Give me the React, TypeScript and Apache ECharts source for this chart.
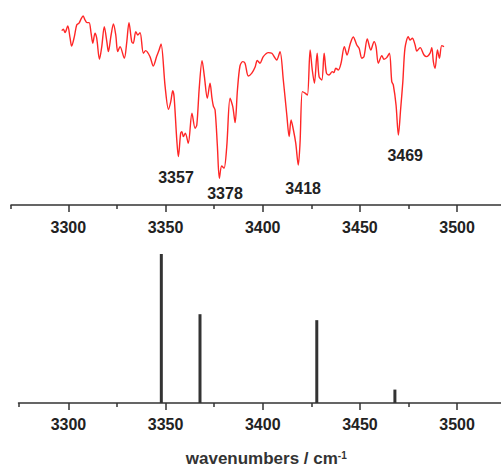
import React, { useEffect, useRef } from "react";
import * as echarts from "echarts";

// Measured IR spectrum (wavenumber / cm^-1, transmittance, arbitrary units)
const irSpectrum: [number, number][] = [
  [3296.6, 84.7], [3297.4, 85.4], [3298.3, 83.7], [3299.7, 87.0], [3300.9, 80.9],
  [3301.7, 77.0], [3303.1, 81.7], [3304.3, 87.5], [3305.5, 88.4], [3306.5, 90.4],
  [3307.6, 92.0], [3308.6, 90.0], [3309.6, 88.7], [3310.7, 88.7], [3311.7, 83.4],
  [3312.6, 78.4], [3313.7, 83.4], [3314.6, 80.9], [3316.0, 70.4], [3317.2, 76.7],
  [3318.5, 86.7], [3319.8, 79.2], [3320.6, 74.2], [3322.0, 82.5], [3323.2, 88.0],
  [3324.4, 82.5], [3325.4, 74.2], [3326.6, 76.7], [3328.8, 70.9], [3330.0, 78.4],
  [3331.2, 88.7], [3332.6, 79.2], [3333.4, 78.4], [3334.7, 84.2], [3335.7, 82.5],
  [3336.9, 83.7], [3338.6, 73.4], [3339.8, 74.7], [3342.0, 71.7], [3343.7, 67.0],
  [3345.5, 72.0], [3346.7, 75.0], [3347.7, 78.0], [3349.8, 56.7], [3351.5, 45.4],
  [3352.7, 49.2], [3353.7, 54.7], [3354.4, 51.7], [3355.8, 30.0], [3356.6, 21.7],
  [3357.8, 33.4], [3358.4, 34.2], [3359.2, 31.7], [3360.2, 33.4], [3361.7, 28.4],
  [3363.6, 43.4], [3365.2, 35.9], [3366.1, 37.5], [3367.4, 56.7], [3368.8, 69.7],
  [3370.0, 61.7], [3371.5, 50.9], [3372.9, 58.4], [3373.9, 50.9], [3374.6, 47.0],
  [3375.5, 45.0], [3376.7, 26.7], [3377.7, 10.9], [3378.9, 17.0], [3380.1, 15.9],
  [3381.5, 26.7], [3383.2, 50.9], [3384.6, 46.7], [3385.8, 38.7], [3387.0, 55.0],
  [3388.3, 67.0], [3389.7, 69.2], [3390.9, 68.4], [3392.6, 62.0], [3394.4, 63.4],
  [3396.1, 66.5], [3397.2, 69.8], [3398.6, 68.4], [3400.3, 71.7], [3402.9, 73.7],
  [3404.7, 73.4], [3406.4, 70.9], [3407.2, 70.0], [3408.9, 74.2], [3410.6, 60.0],
  [3412.4, 42.5], [3413.6, 31.7], [3414.6, 40.0], [3415.8, 35.0], [3417.0, 28.4],
  [3418.3, 17.5], [3419.2, 28.4], [3420.4, 54.2], [3421.8, 53.4], [3423.0, 52.5],
  [3424.4, 75.0], [3425.5, 65.0], [3426.6, 58.4], [3428.0, 73.4], [3429.0, 61.7],
  [3430.4, 60.0], [3431.6, 73.4], [3432.8, 63.4], [3434.1, 62.5], [3435.8, 64.2],
  [3436.6, 63.7], [3437.6, 65.9], [3438.9, 65.0], [3440.3, 68.4], [3442.0, 76.7],
  [3443.4, 72.5], [3445.0, 78.0], [3446.6, 81.5], [3448.4, 77.5], [3449.6, 75.9],
  [3451.0, 70.9], [3452.1, 71.7], [3453.8, 80.5], [3455.6, 75.0], [3457.3, 79.2],
  [3458.3, 76.7], [3459.5, 68.4], [3461.3, 72.2], [3462.4, 70.4], [3463.8, 71.2],
  [3465.2, 73.4], [3466.4, 59.2], [3467.2, 57.5], [3468.6, 47.5], [3469.8, 32.5],
  [3471.0, 45.9], [3472.1, 59.2], [3473.2, 75.9], [3474.9, 81.7], [3475.8, 80.0],
  [3477.0, 80.9], [3478.4, 77.5], [3479.3, 74.5], [3481.0, 76.2], [3483.0, 72.5],
  [3484.4, 71.7], [3486.1, 73.4], [3487.0, 76.2], [3487.8, 69.2], [3488.7, 65.9],
  [3489.9, 75.0], [3490.9, 70.9], [3492.1, 77.2], [3493.3, 76.7],
];

// Calculated stick spectrum
const calcWavenumbers = [3347.8, 3367.7, 3427.8, 3468.0];
const calcIntensities = [100, 59.6, 55.6, 9.0];

// Peak annotations
const peakLabels = ["3357", "3378", "3418", "3469"];
const peakLabelAnchors: [number, number][] = [
  [3355.4, 11.5],
  [3380.6, 3.5],
  [3420.8, 6.0],
  [3473.3, 22.5],
];

const majorTicks = [3300, 3350, 3400, 3450, 3500];
const minorTicks = [3325, 3375, 3425, 3475];

const FONT = "'Liberation Sans', Arial, Helvetica, sans-serif";
const AXIS_COLOR = "#333";
const X_MAX = 3522.6;
const TOP_MIN = 3270.5;
const BOTTOM_MIN = 3274.3;

function xAxesFor(gridIndex: number, min: number, withName: boolean) {
  const main: any = {
    type: "value",
    gridIndex,
    min,
    max: X_MAX,
    position: "bottom",
    axisLine: { show: true, onZero: false, lineStyle: { color: AXIS_COLOR, width: 1.5 } },
    axisTick: {
      show: true,
      customValues: majorTicks,
      length: 7,
      lineStyle: { color: AXIS_COLOR, width: 1.5 },
    },
    axisLabel: {
      customValues: majorTicks,
      formatter: (v: number) => String(Math.round(v)),
      margin: gridIndex === 0 ? 14 : 13,
      fontSize: 16,
      fontWeight: "bold",
      color: "#222",
      fontFamily: FONT,
    },
    splitLine: { show: false },
  };
  if (withName) {
    main.name = "wavenumbers / cm{sup|-1}";
    main.nameLocation = "middle";
    main.nameGap = 47;
    main.nameTextStyle = {
      fontSize: 17,
      fontWeight: "bold",
      color: "#333",
      fontFamily: FONT,
      padding: [0, 0, 0, 13],
      rich: {
        sup: {
          fontSize: 10,
          fontWeight: "bold",
          color: "#333",
          fontFamily: FONT,
          verticalAlign: "top",
        },
      },
    };
  }
  const minor: any = {
    type: "value",
    gridIndex,
    min,
    max: X_MAX,
    position: "bottom",
    axisLine: { show: false, onZero: false },
    axisTick: {
      show: true,
      customValues: [min, ...minorTicks],
      length: 4,
      lineStyle: { color: AXIS_COLOR, width: 1.5 },
    },
    axisLabel: { show: false },
    splitLine: { show: false },
  };
  return [main, minor];
}

export default function App() {
  const ref = useRef<HTMLDivElement>(null);

  useEffect(() => {
    if (!ref.current) return;
    const chart = echarts.init(ref.current, undefined, { renderer: "svg" });

    const option: any = {
      animation: false,
      backgroundColor: "#ffffff",
      grid: [
        { left: 11, right: 0, top: 10, bottom: 263 },
        { left: 18.5, right: 0, top: 254, bottom: 63.7 },
      ],
      xAxis: [...xAxesFor(0, TOP_MIN, false), ...xAxesFor(1, BOTTOM_MIN, true)],
      yAxis: [
        { type: "value", gridIndex: 0, min: -2.5, max: 95, show: false },
        { type: "value", gridIndex: 1, min: 0, max: 100, show: false },
      ],
      series: [
        {
          type: "line",
          xAxisIndex: 0,
          yAxisIndex: 0,
          data: irSpectrum,
          showSymbol: false,
          smooth: 0.3,
          lineStyle: { color: "#ff2626", width: 1.4 },
          markPoint: {
            symbol: "circle",
            symbolSize: 1,
            itemStyle: { color: "rgba(0,0,0,0)" },
            label: {
              show: true,
              position: "inside",
              formatter: "{b}",
              fontSize: 16,
              fontWeight: "bold",
              color: "#222",
              fontFamily: FONT,
            },
            data: peakLabels.map((t, i) => ({ name: t, coord: peakLabelAnchors[i] })),
          },
        },
        {
          type: "bar",
          xAxisIndex: 2,
          yAxisIndex: 1,
          barWidth: 3,
          itemStyle: { color: "#333" },
          data: calcWavenumbers.map((w, i) => [w, calcIntensities[i]]),
        },
      ],
    };

    chart.setOption(option);
    return () => chart.dispose();
  }, []);

  return (
    <div
      ref={ref}
      style={{ position: "fixed", left: 0, top: 0, width: 501, height: 468, background: "#fff" }}
    />
  );
}
